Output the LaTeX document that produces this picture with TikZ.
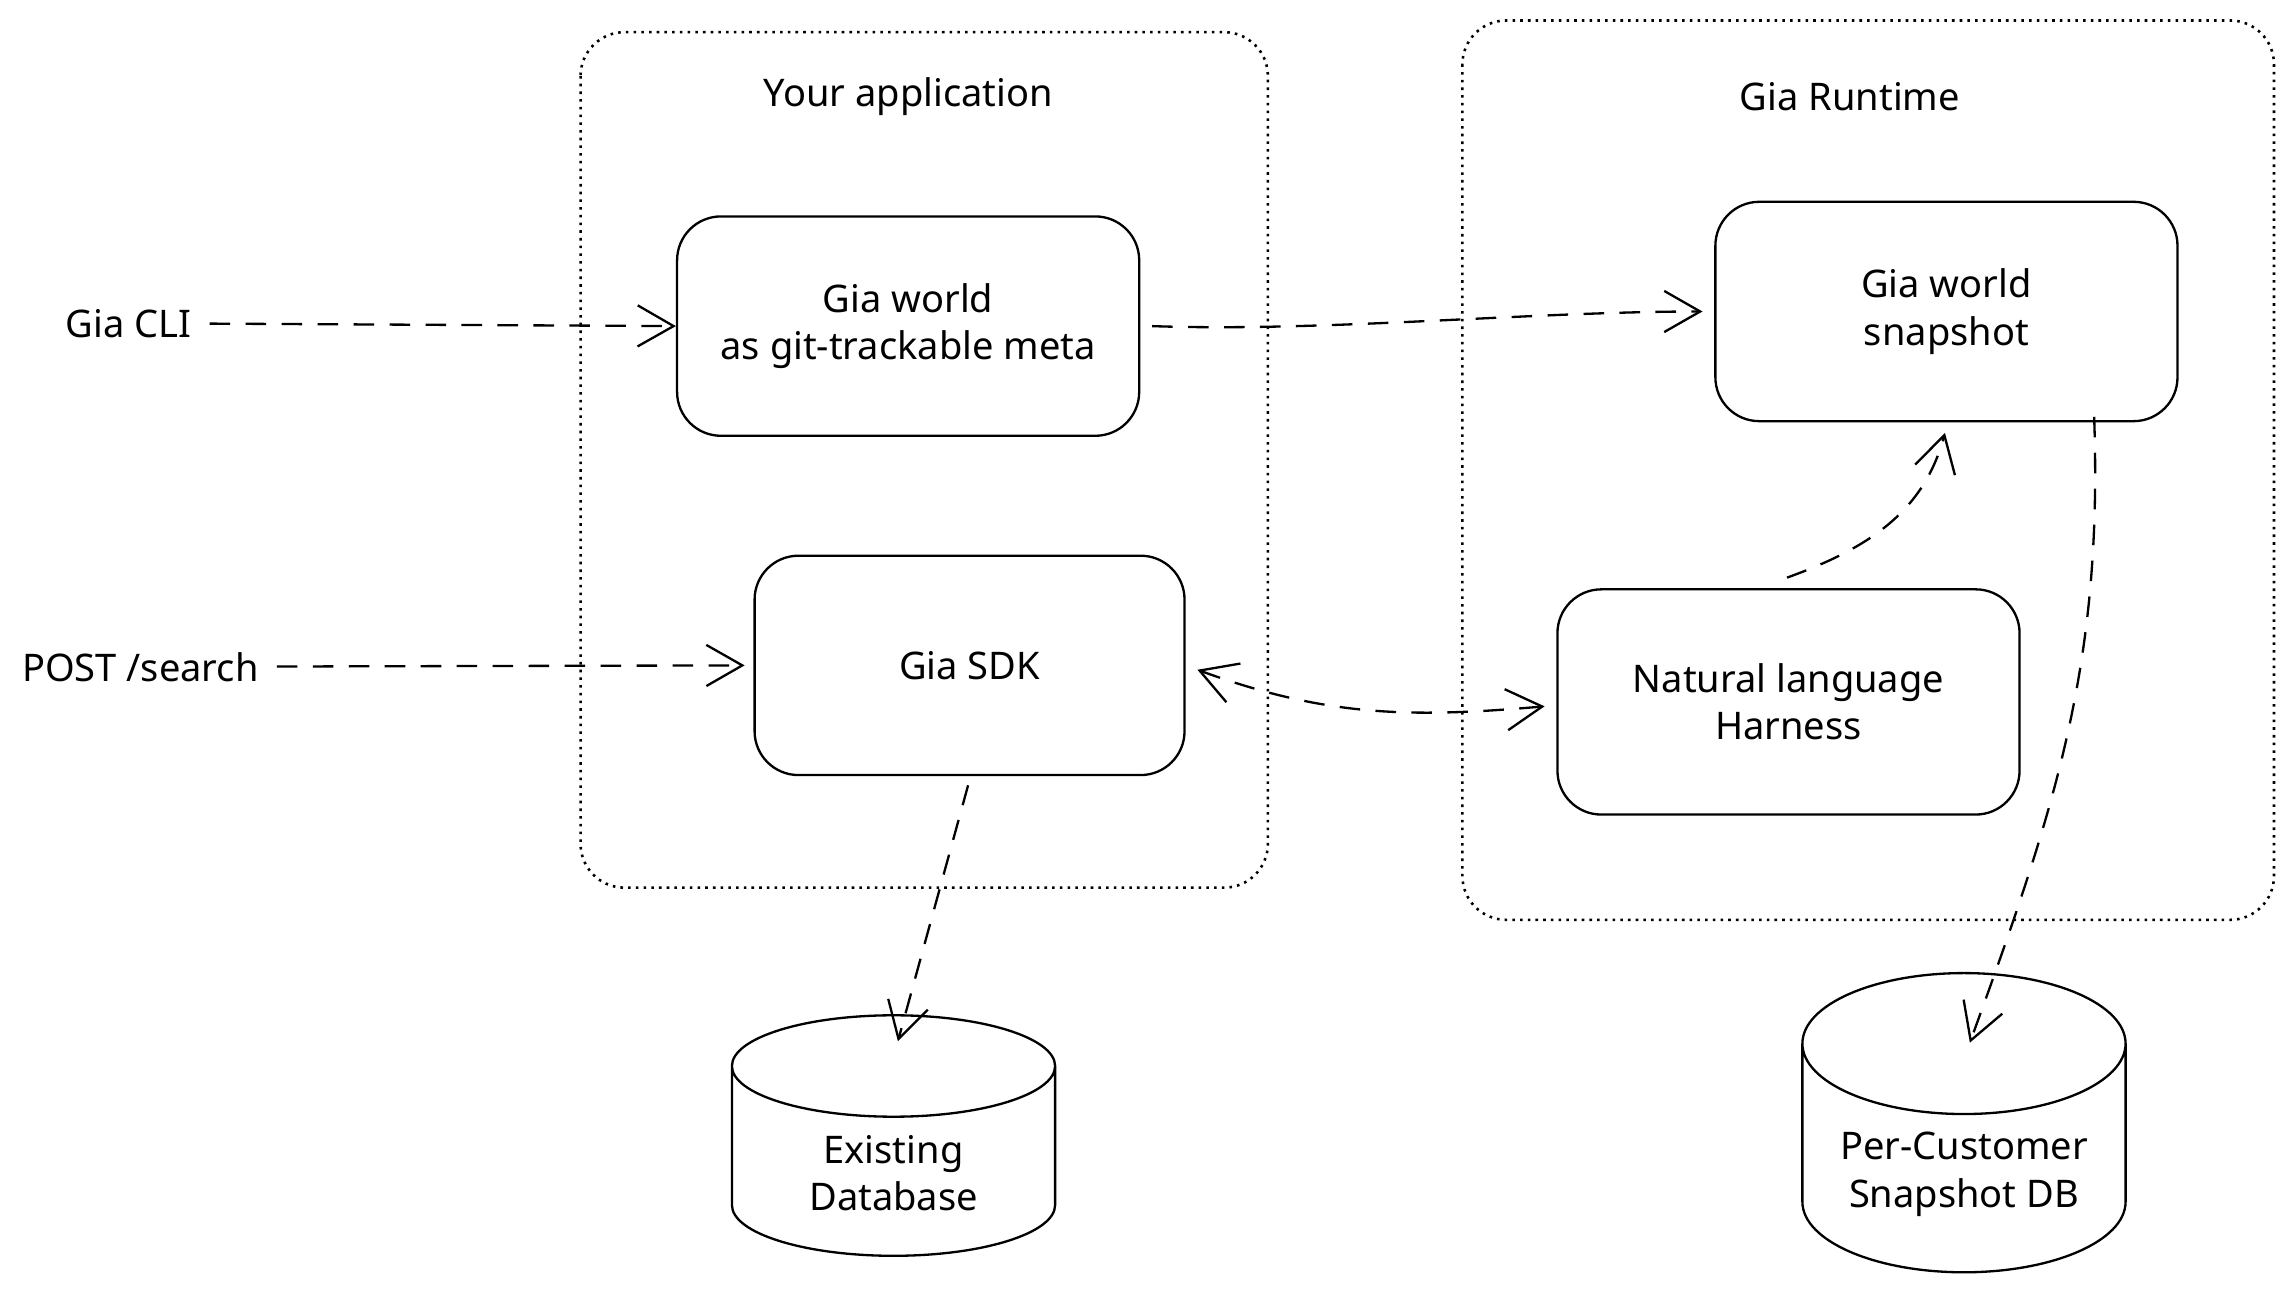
\documentclass[tikz,border=0pt]{standalone}
\usepackage{fontspec}
\setmainfont{Noto Sans}
\usetikzlibrary{arrows.meta,shapes.geometric,positioning}

\tikzset{
  group/.style={draw, densely dotted, rounded corners=0.3cm, line width=0.5pt},
  block/.style={draw, rounded corners=0.3cm, line width=0.45pt, align=center, minimum width=3.16cm, minimum height=1.5cm},
  store/.style={draw, cylinder, shape border rotate=90, aspect=0.5, line width=0.45pt, align=center, minimum width=2.21cm, minimum height=1.6cm},
  flow/.style={dashed, dash pattern=on 4pt off 3pt, line width=0.45pt, -{Straight Barb[length=7pt,width=8pt]}},
}

\begin{document}
\begin{tikzpicture}[font=\fontsize{7.4}{9.2}\selectfont]
 \useasboundingbox (0,0) rectangle (15.68,-8.98);

 % groups
 \draw[group] (3.97,-0.22) rectangle (8.67,-6.07);
 \draw[group] (10.00,-0.14) rectangle (15.55,-6.29);
 \node (apptitle) at (6.21,-0.66) {Your application};
 \node (rttitle) at (12.65,-0.66) {Gia Runtime};

 \node[block] (world) at (6.21,-2.23) {Gia world\\as git-trackable meta};
 \node[block, minimum width=2.94cm] (sdk) at (6.63,-4.55) {Gia SDK};
 \node[block] (snap) at (13.31,-2.13) {Gia world\\snapshot};
 \node[block, minimum height=1.54cm] (nlh) at (12.23,-4.80) {Natural language\\Harness};

 \node[store] (exdb) at (6.11,-8.02) {Existing\\Database};
 \node[store] (pcdb) at (13.43,-8.03) {Per-Customer\\Snapshot DB};

 \node (cli) at (0.88,-2.21) {Gia CLI};
 \node (post) at (0.96,-4.56) {POST /search};

 \coordinate (nltop) at (12.22,-3.95);
 \coordinate (snapin) at (13.30,-2.96);
 \coordinate (snapout) at (14.32,-2.85);
 \coordinate (pcin) at (13.47,-7.13);
 \coordinate (sdkout) at (6.62,-5.37);
 \coordinate (exin) at (6.14,-7.12);

 \draw[flow] (cli) -- (world.west);
 \draw[flow] (post) -- ([xshift=-0.06cm]sdk.west);
 \draw[flow] ([xshift=0.08cm]world.east) to[out=-2,in=180,looseness=0.8] ([xshift=-0.08cm]snap.west);
 \draw[flow, {Straight Barb[length=7pt,width=8pt]}-{Straight Barb[length=7pt,width=8pt]}]
   ([xshift=0.08cm,yshift=-0.03cm]sdk.east) to[out=-20,in=185] ([xshift=-0.08cm,yshift=-0.03cm]nlh.west);
 \draw[flow] (nltop) to[out=20,in=-105] (snapin);
 \draw[flow] (sdkout) -- (exin);
 \draw[flow] (snapout) to[out=-88,in=70] (pcin);
\end{tikzpicture}
\end{document}
